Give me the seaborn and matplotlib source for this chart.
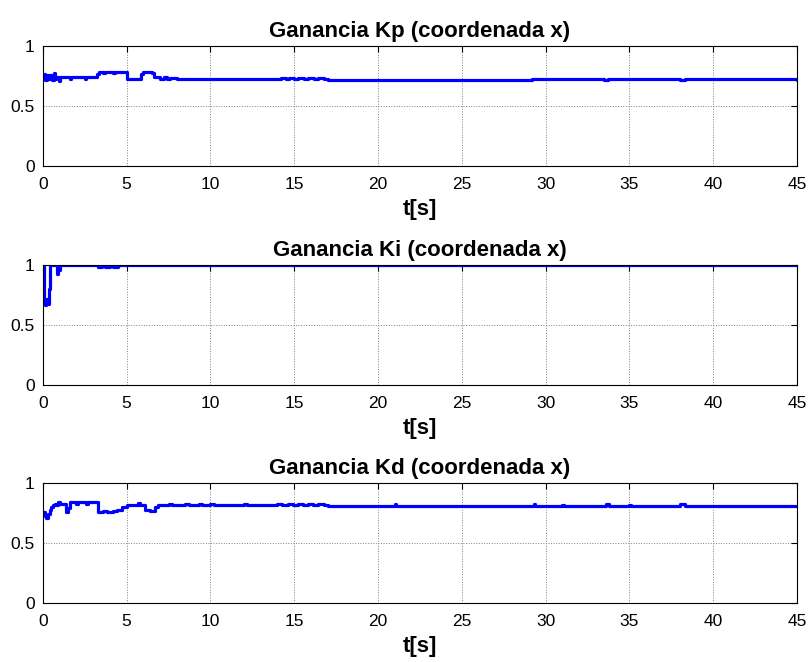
import numpy as np
import pandas as pd
import matplotlib
matplotlib.use("Agg")
import matplotlib.pyplot as plt
import seaborn as sns

sns.set_style("white", {"text.color": "black", "axes.labelcolor": "black",
                        "xtick.color": "black", "ytick.color": "black"})
plt.rcParams["font.family"] = ["Liberation Sans", "DejaVu Sans"]

# Ganancia Kp: instantes de cambio y valores (escalonado)
kp_t = [0, 0.05, 0.15, 0.25, 0.35, 0.45, 0.55, 0.65, 0.75, 0.85, 0.95, 1.05,
        1.6, 1.7, 2.5, 2.6, 3.25, 3.35, 3.6, 3.7, 4.2, 4.3, 5.0, 5.85, 6.0,
        6.5, 6.65, 7.0, 7.2, 7.4, 7.6, 8.0, 8.3, 9.0, 9.2, 10.0, 10.3, 12.0,
        12.2, 14.0, 14.2, 14.5, 14.7, 15.0, 15.2, 15.6, 15.8, 16.2, 16.4, 16.8,
        17.0, 21.0, 29.0, 29.2, 33.5, 33.7, 38.0, 38.3, 45.0]
kp_v = [0.75, 0.77, 0.72, 0.76, 0.73, 0.76, 0.72, 0.78, 0.73, 0.74, 0.71, 0.74,
        0.73, 0.74, 0.73, 0.74, 0.77, 0.79, 0.78, 0.79, 0.78, 0.79, 0.73, 0.77, 0.79,
        0.78, 0.74, 0.73, 0.74, 0.725, 0.735, 0.725, 0.73, 0.725, 0.73, 0.725, 0.73, 0.725,
        0.73, 0.725, 0.735, 0.725, 0.735, 0.725, 0.735, 0.725, 0.735, 0.725, 0.735, 0.725,
        0.72, 0.72, 0.72, 0.725, 0.72, 0.725, 0.72, 0.725, 0.72]

# Ganancia Ki
ki_t = [0, 0.08, 0.12, 0.2, 0.3, 0.38, 0.45, 0.85, 0.9, 1.0, 3.3, 3.5, 3.7,
        4.0, 4.2, 4.5, 45.0]
ki_v = [1.0, 0.7, 0.67, 0.72, 0.68, 0.8, 1.0, 0.93, 0.96, 1.0, 0.985, 1.0,
        0.985, 1.0, 0.99, 1.0, 1.0]

# Ganancia Kd
kd_t = [0, 0.1, 0.2, 0.3, 0.4, 0.5, 0.6, 0.7, 0.8, 0.9, 1.0, 1.4, 1.5, 1.6,
        2.0, 2.1, 2.6, 2.7, 3.3, 3.6, 3.8, 4.2, 4.4, 4.7, 5.0, 5.7, 5.8, 6.1,
        6.4, 6.7, 6.9, 7.5, 7.7, 8.5, 8.7, 9.3, 9.5, 10.0, 10.2, 12.0, 12.2,
        14.0, 14.3, 14.6, 14.9, 15.2, 15.5, 15.8, 16.1, 16.4, 16.8, 17.0, 21.0,
        21.1, 29.3, 29.4, 31.0, 31.1, 33.6, 33.8, 35.0, 35.1, 38.0, 38.3, 45.0]
kd_v = [0.76, 0.73, 0.71, 0.74, 0.78, 0.8, 0.82, 0.83, 0.82, 0.84, 0.83, 0.76,
        0.79, 0.84, 0.83, 0.84, 0.83, 0.84, 0.76, 0.77, 0.76, 0.77, 0.78, 0.8, 0.815,
        0.835, 0.815, 0.78, 0.77, 0.8, 0.82, 0.83, 0.82, 0.83, 0.82, 0.83, 0.82, 0.83,
        0.82, 0.83, 0.82, 0.83, 0.815, 0.83, 0.815, 0.83, 0.815, 0.83, 0.815, 0.83,
        0.82, 0.81, 0.825, 0.81, 0.825, 0.81, 0.82, 0.81, 0.825, 0.81, 0.82, 0.81,
        0.825, 0.81, 0.81]

series = [
    ("Ganancia Kp (coordenada x)", kp_t, kp_v),
    ("Ganancia Ki (coordenada x)", ki_t, ki_v),
    ("Ganancia Kd (coordenada x)", kd_t, kd_v),
]

fig = plt.figure(figsize=(8.09, 6.62), dpi=100)
bottoms = [0.749, 0.418, 0.089]

for (title, t, v), b in zip(series, bottoms):
    ax = fig.add_axes([0.053, b, 0.932, 0.181])
    df = pd.DataFrame({"t": t, "v": v})
    sns.lineplot(data=df, x="t", y="v", ax=ax, color="#0000ff", linewidth=2.3,
                 drawstyle="steps-post", estimator=None, sort=False)
    ax.set_xlim(0, 45)
    ax.set_ylim(0, 1)
    ax.set_xticks(range(0, 46, 5))
    ax.set_yticks([0, 0.5, 1])
    ax.set_yticklabels(["0", "0.5", "1"])
    ax.grid(True, color="#808080", linestyle=":", linewidth=0.7)
    ax.tick_params(direction="in", length=4, labelsize=12.5, top=True, right=True,
                   colors="black")
    ax.tick_params(axis="x", pad=8)
    ax.tick_params(axis="y", pad=6)
    for s in ax.spines.values():
        s.set_color("black")
        s.set_linewidth(0.8)
    ax.set_title(title, fontsize=16, fontweight="bold", pad=7, color="black")
    ax.set_xlabel("t[s]", fontsize=16, fontweight="bold", labelpad=5, color="black")
    ax.set_ylabel("")

fig.savefig("out.png", dpi=100)
